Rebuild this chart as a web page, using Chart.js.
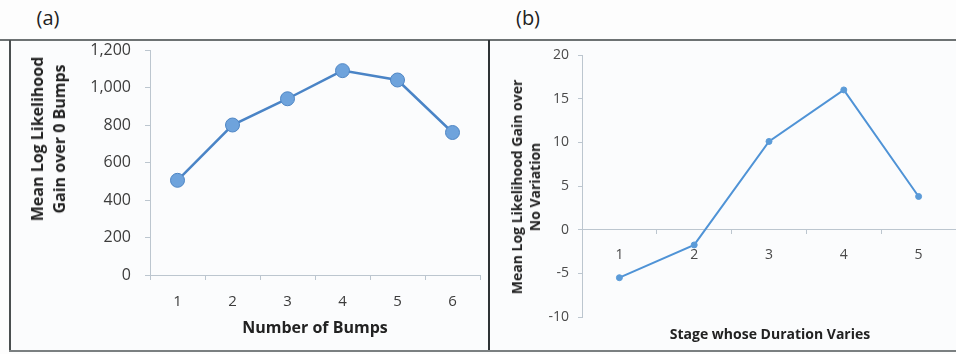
<!DOCTYPE html>
<html>
<head>
<meta charset="utf-8">
<script src="https://cdn.jsdelivr.net/npm/chart.js@4/dist/chart.umd.min.js"></script>
<style>
  html, body { margin: 0; padding: 0; }
  body {
    width: 956px; height: 354px; overflow: hidden; position: relative;
    background: #fdfdfd; font-family: "Open Sans", sans-serif;
  }
  .panel-bg { position: absolute; left: 11px; top: 41px; width: 945px; height: 309px; background: #fbfcfd; }
  .rule { position: absolute; }
  canvas { position: absolute; }
  .lbl { position: absolute; white-space: nowrap; transform: translate(-50%, -50%); color: #222222; }
  .ytitle { position: absolute; white-space: nowrap; text-align: center; transform: translate(-50%, -50%) rotate(-90deg); color: #222222; font-weight: 700; }
</style>
</head>
<body>
<div class="panel-bg"></div>
<div class="rule" style="left:0;top:39px;width:956px;height:2px;background:#6d7273;"></div>
<div class="rule" style="left:9px;top:40px;width:2px;height:311px;background:#4a4f50;"></div>
<div class="rule" style="left:488px;top:40px;width:2px;height:311px;background:#2e3335;"></div>
<div class="rule" style="left:9px;top:350px;width:947px;height:2px;background:#7b8081;"></div>

<div class="lbl" style="left:48px;top:17px;font-size:20px;">(a)</div>
<div class="lbl" style="left:528px;top:17px;font-size:20px;">(b)</div>

<canvas id="chartA" width="477" height="309" style="left:11px;top:41px;"></canvas>
<canvas id="chartB" width="470" height="309" style="left:490px;top:41px;"></canvas>

<div class="ytitle" style="left:48px;top:139px;font-size:16px;line-height:22px;">Mean Log Likelihood<br>Gain over 0 Bumps</div>
<div class="lbl" style="left:315px;top:327px;font-size:16px;font-weight:700;">Number of Bumps</div>

<div class="ytitle" style="left:526px;top:187px;font-size:14px;line-height:18px;">Mean Log Likelihood Gain over<br>No Variation</div>
<div class="lbl" style="left:770px;top:333px;font-size:14px;font-weight:700;">Stage whose Duration Varies</div>

<script>
// (a) number of bumps vs. mean log-likelihood gain over the 0-bump model
const bumpCounts = ['1', '2', '3', '4', '5', '6'];
const bumpGain = [505, 800, 940, 1090, 1040, 760];
const bumpTicks = [0, 200, 400, 600, 800, 1000, 1200];

// (b) stage whose duration varies vs. gain over no variation
const stages = ['1', '2', '3', '4', '5'];
const stageGain = [-5.5, -1.75, 10.1, 16, 3.8];
const stageTicks = [-10, -5, 0, 5, 10, 15, 20];

const axisColor = '#bcc6cf';

function tickList(values) {
  return (scale) => { scale.ticks = values.map(v => ({ value: v })); };
}

// fixed-width value axis; the plot area edges come from layout padding only
function valueAxisFit(width) {
  return (s) => { s.width = width; s.paddingTop = 0; s.paddingBottom = 0; };
}

new Chart(document.getElementById('chartA'), {
  type: 'line',
  data: {
    labels: bumpCounts,
    datasets: [{
      data: bumpGain,
      borderColor: '#4a84c6',
      borderWidth: 2.5,
      pointRadius: 7,
      pointHoverRadius: 7,
      pointBackgroundColor: '#6ea3dc',
      pointBorderColor: '#4f86c4',
      pointBorderWidth: 1,
      tension: 0
    }]
  },
  options: {
    responsive: false,
    animation: false,
    events: [],
    layout: { padding: { left: 0, right: 8, top: 9, bottom: 0 } },
    plugins: { legend: { display: false }, tooltip: { enabled: false } },
    scales: {
      x: {
        offset: true,
        grid: { offset: true, drawOnChartArea: false, drawTicks: true, tickLength: 5, color: axisColor },
        border: { display: true, color: axisColor },
        ticks: { padding: 13, color: '#3c3c3c', font: { family: 'Open Sans', size: 15 } },
        afterFit: (s) => { s.height = 75; }
      },
      y: {
        min: 0, max: 1200,
        afterBuildTicks: tickList(bumpTicks),
        grid: { drawOnChartArea: false, drawTicks: true, tickLength: 5, color: axisColor },
        border: { display: true, color: axisColor },
        ticks: { padding: 14, color: '#3c3c3c', font: { family: 'Open Sans', size: 16 } },
        afterFit: valueAxisFit(139)
      }
    }
  }
});

new Chart(document.getElementById('chartB'), {
  type: 'line',
  data: {
    labels: stages,
    datasets: [{
      data: stageGain,
      borderColor: '#4f93d6',
      borderWidth: 2,
      pointRadius: 3,
      pointHoverRadius: 3,
      pointBackgroundColor: '#5b9bd8',
      pointBorderColor: '#5b9bd8',
      pointBorderWidth: 1,
      tension: 0
    }]
  },
  options: {
    responsive: false,
    animation: false,
    events: [],
    layout: { padding: { left: 0, right: 2, top: 14, bottom: 33 } },
    plugins: { legend: { display: false }, tooltip: { enabled: false } },
    scales: {
      x: {
        position: { y: 0 },
        offset: true,
        grid: { offset: true, drawOnChartArea: false, drawTicks: true, tickLength: 4, color: axisColor },
        border: { display: true, color: axisColor },
        ticks: { padding: 13, color: '#4a4a4a', font: { family: 'Open Sans', size: 14 } },
        afterFit: (s) => { s.height = 0; }
      },
      y: {
        min: -10, max: 20,
        afterBuildTicks: tickList(stageTicks),
        grid: { drawOnChartArea: false, drawTicks: true, tickLength: 4, color: axisColor },
        border: { display: true, color: axisColor },
        ticks: { padding: 9, color: '#4a4a4a', font: { family: 'Open Sans', size: 14 } },
        afterFit: valueAxisFit(92)
      }
    }
  }
});
</script>
</body>
</html>
